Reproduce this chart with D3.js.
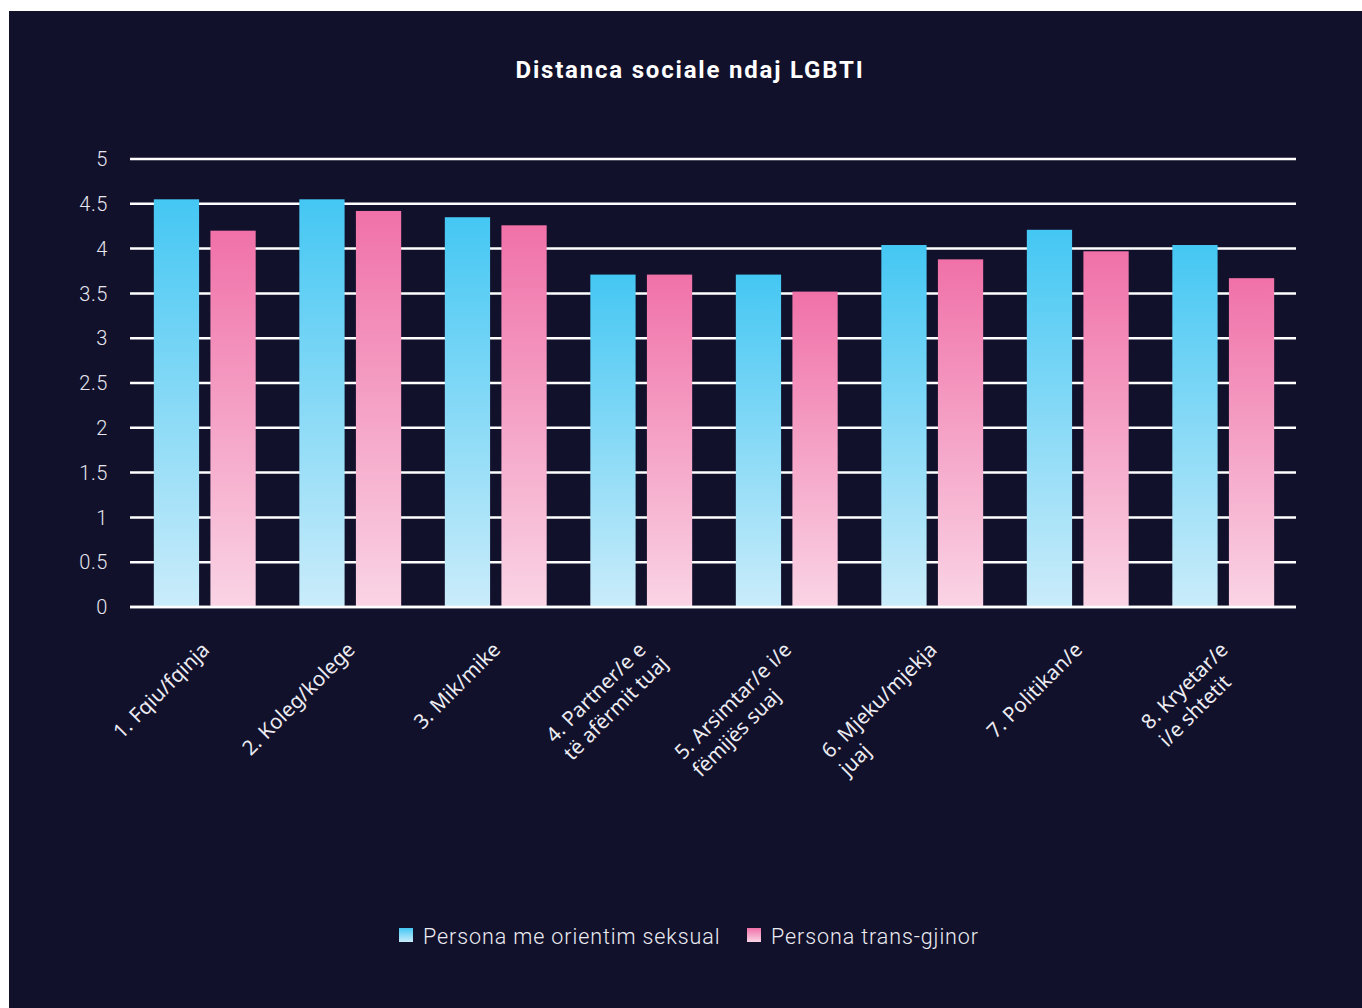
<!DOCTYPE html>
<html>
<head>
<meta charset="utf-8">
<script src="https://cdn.jsdelivr.net/npm/d3@7"></script>
<style>
  body { margin: 0; background: #ffffff; }
  svg { display: block; }
</style>
</head>
<body>
<div id="vis"></div>
<script>
// data
var categories = [
    ["1. Fqiu/fqinja"],
    ["2. Koleg/kolege"],
    ["3. Mik/mike"],
    ["4. Partner/e e", "të afërmit tuaj"],
    ["5. Arsimtar/e i/e", "fëmijës suaj"],
    ["6. Mjeku/mjekja", "juaj"],
    ["7. Politikan/e"],
    ["8. Kryetar/e", "i/e shtetit"]
];
var seriesNames = ["Persona me orientim seksual", "Persona trans-gjinor"];
var orientim = [4.55, 4.55, 4.35, 3.71, 3.71, 4.04, 4.21, 4.04];
var transGjinor = [4.20, 4.42, 4.26, 3.71, 3.52, 3.88, 3.97, 3.67];
var yTicks = [0, 0.5, 1, 1.5, 2, 2.5, 3, 3.5, 4, 4.5, 5];

var W = 1362, H = 1008;
var bg = "#12112c";

var svg = d3.select("#vis").append("svg")
    .attr("width", W)
    .attr("height", H);

svg.append("rect")
    .attr("x", 9).attr("y", 11)
    .attr("width", W - 9).attr("height", H - 11)
    .attr("fill", bg);

// gradients for the two series
var defs = svg.append("defs");
var gradColors = [["#44c7f3", "#caecfa"], ["#f071a8", "#fad4e5"]];
gradColors.forEach(function (c, i) {
    var g = defs.append("linearGradient")
        .attr("id", "grad" + i)
        .attr("x1", 0).attr("y1", 0).attr("x2", 0).attr("y2", 1);
    g.append("stop").attr("offset", "0%").attr("stop-color", c[0]);
    g.append("stop").attr("offset", "100%").attr("stop-color", c[1]);
});

var x0 = d3.scaleBand()
    .domain(d3.range(categories.length))
    .range([132, 1296])
    .paddingInner(0.3)
    .paddingOuter(0.15);

var x1 = d3.scaleBand()
    .domain([0, 1])
    .range([0, x0.bandwidth()])
    .paddingInner(0.2);

var y = d3.scaleLinear()
    .domain([0, 5])
    .range([607, 159]);

// title
svg.append("text")
    .attr("x", 690)
    .attr("y", 78)
    .attr("text-anchor", "middle")
    .attr("fill", "#ffffff")
    .style("font-family", "Roboto, sans-serif")
    .style("font-weight", "bold")
    .style("font-size", "24px")
    .style("letter-spacing", "1.8px")
    .text("Distanca sociale ndaj LGBTI");

// gridlines
svg.append("g")
    .selectAll("line")
    .data(yTicks)
    .join("line")
    .attr("x1", 130).attr("x2", 1296)
    .attr("y1", function (d) { return y(d); })
    .attr("y2", function (d) { return y(d); })
    .attr("stroke", "#ffffff")
    .attr("stroke-width", 2.5);

// y tick labels
svg.append("g")
    .selectAll("text")
    .data(yTicks)
    .join("text")
    .attr("x", 108)
    .attr("y", function (d) { return y(d); })
    .attr("dy", "0.36em")
    .attr("text-anchor", "end")
    .attr("fill", "#e6e6ee")
    .style("font-family", "Roboto, sans-serif")
    .style("font-weight", 300)
    .style("font-size", "20px")
    .style("letter-spacing", "0.6px")
    .text(function (d) { return d3.format("")(d); });

// bars
var rows = categories.map(function (c, i) { return [orientim[i], transGjinor[i]]; });

var groups = svg.append("g")
    .selectAll("g")
    .data(rows)
    .join("g")
    .attr("transform", function (d, i) { return "translate(" + x0(i) + ",0)"; });

groups.selectAll("rect")
    .data(function (d) { return d; })
    .join("rect")
    .attr("x", function (d, j) { return x1(j); })
    .attr("width", x1.bandwidth())
    .attr("y", function (d) { return y(d); })
    .attr("height", function (d) { return y(0) - y(d); })
    .attr("fill", function (d, j) { return "url(#grad" + j + ")"; });

// zero line on top
svg.append("line")
    .attr("x1", 130).attr("x2", 1296)
    .attr("y1", y(0)).attr("y2", y(0))
    .attr("stroke", "#ffffff")
    .attr("stroke-width", 2.5);

// category labels, rotated; first line ends at the anchor, next lines left-aligned with it
var lineH = 25;
svg.append("g")
    .selectAll("text")
    .data(categories)
    .join("text")
    .attr("transform", function (d, i) {
        return "translate(" + (x0(i) + x0.bandwidth() / 2 + 6) + ",651) rotate(-45)";
    })
    .attr("fill", "#ececf2")
    .style("font-family", "'Noto Sans', sans-serif")
    .style("font-size", "20.5px")
    .each(function (d) {
        var t = d3.select(this);
        var first = t.append("tspan").attr("x", 0).attr("y", 0)
            .attr("text-anchor", "end").text(d[0]);
        var len = first.node().getComputedTextLength();
        d.slice(1).forEach(function (line, k) {
            t.append("tspan")
                .attr("x", -len)
                .attr("y", (k + 1) * lineH)
                .attr("text-anchor", "start")
                .text(line);
        });
    });

// legend
var legendX = [399, 747];
var legend = svg.append("g")
    .selectAll("g")
    .data(seriesNames)
    .join("g")
    .attr("transform", function (d, i) { return "translate(" + legendX[i] + ",928)"; });

legend.append("rect")
    .attr("width", 14).attr("height", 14)
    .attr("fill", function (d, i) { return "url(#grad" + i + ")"; });

legend.append("text")
    .attr("x", 24)
    .attr("y", 16)
    .attr("fill", "#ececf2")
    .style("font-family", "Roboto, sans-serif")
    .style("font-weight", 300)
    .style("font-size", "21.5px")
    .style("letter-spacing", "0.9px")
    .text(function (d) { return d; });
</script>
</body>
</html>
